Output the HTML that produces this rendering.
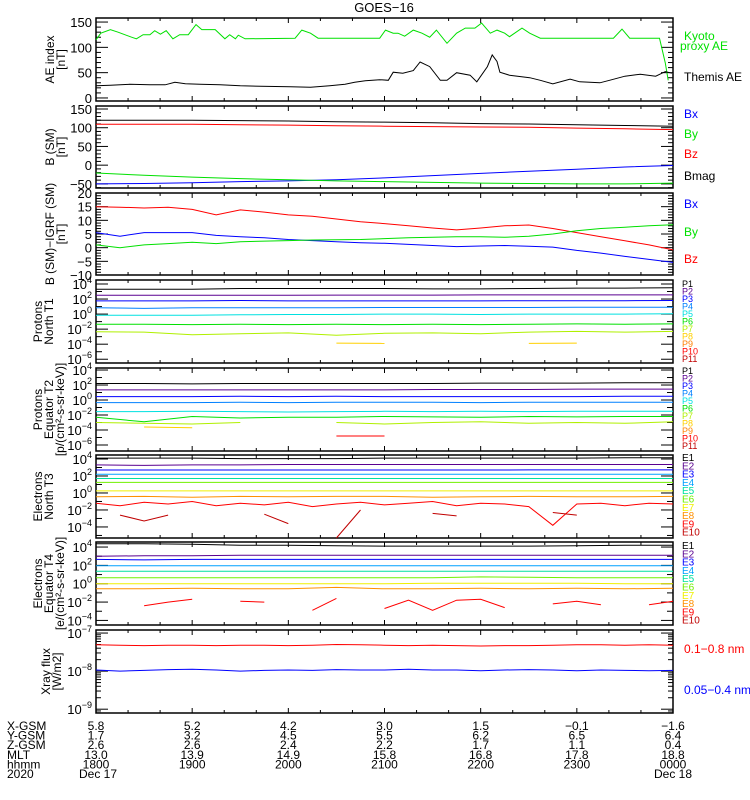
<!DOCTYPE html>
<html><head><meta charset="utf-8"><style>
html,body{margin:0;padding:0;background:#fff;}
svg{display:block;font-family:"Liberation Sans",sans-serif;}
</style></head><body>
<svg id="chart" width="750" height="800" viewBox="0 0 750 800" xmlns="http://www.w3.org/2000/svg">
<rect x="0" y="0" width="750" height="800" fill="#fff"/>
<text x="384" y="12" font-size="13" text-anchor="middle">GOES−16</text>
<g id="layer"></g>
</svg>
<script>
const tHalf = [0,0.5,1,1.5,2,2.5,3,3.5,4,4.5,5,5.5,6];
const tQ = [0,0.25,0.5,0.75,1,1.25,1.5,1.75,2,2.25,2.5,2.75,3,3.25,3.5,3.75,4,4.25,4.5,4.75,5,5.25,5.5,5.75,6];
const hourLabels = ["1800","1900","2000","2100","2200","2300","0000"];
const xgsmLabels = ["5.8","5.2","4.2","3.0","1.5","−0.1","−1.6"];
const ygsmLabels = ["1.7","3.2","4.5","5.5","6.2","6.5","6.4"];
const zgsmLabels = ["2.6","2.6","2.4","2.2","1.7","1.1","0.4"];
const mltLabels = ["13.0","13.9","14.9","15.8","16.8","17.8","18.8"];

const aeKyotoT = [0,.05,.15,.23,.30,.37,.42,.49,.56,.61,.67,.73,.80,.87,.96,1.04,1.10,1.24,1.34,1.39,1.45,1.48,1.55,2.07,2.14,2.23,2.31,2.95,3.01,3.09,3.14,3.21,3.30,3.39,3.47,3.54,3.65,3.75,3.84,3.94,4.01,4.10,4.17,4.25,4.30,4.43,4.51,4.62,5.38,5.47,5.55,5.86,5.88,5.92,5.95];
const aeKyoto = [115,128,135,130,125,120,117,125,125,133,126,133,117,125,125,145,135,135,117,125,117,124,117,118,134,128,118,118,134,128,128,122,134,128,120,134,108,128,138,138,148,128,134,128,121,138,128,118,118,136,118,118,101,69,35];
const aeThemisT = [0,.15,.35,.56,.72,.82,.93,1.08,1.29,1.50,1.71,2.02,2.23,2.43,2.59,2.69,2.80,2.95,3.04,3.09,3.19,3.30,3.37,3.47,3.58,3.65,3.75,3.89,3.96,4.07,4.12,4.17,4.20,4.30,4.51,4.62,4.75,4.93,5.03,5.24,5.34,5.50,5.66,5.82,5.92,5.99];
const aeThemis = [24,25,27,26,26,31,28,27,26,24,23,22,21,24,27,31,34,36,35,51,49,54,71,62,35,35,50,45,32,62,85,72,51,45,40,35,28,37,32,30,35,43,47,43,52,49];

const bsmBmag = [120,120,120,119,118,116,115,113,111,110,108,106,104];
const bsmBz = [109,109,109,108,107,105,104,103,102,101,99,97,95];
const bsmBx = [-50,-49,-47,-44,-42,-39,-34,-28,-22,-16,-11,-5,-1];
const bsmBy = [-21,-27,-32,-36,-39,-42,-44,-46,-48,-49,-50,-50,-48];

const digrfBz = [15,14.8,14.5,14.8,14,12,13.8,13,12,11.5,10.5,9.5,8.8,8,7.2,6.5,7.2,8,8.3,7,5.5,4,2.5,1,-0.8];
const digrfBx = [5.5,4.2,5.5,5.5,5.5,4.5,4,3.6,3,2.6,2.2,1.8,1.6,1.2,0.8,0.4,0.6,0.8,0.5,0.2,-1,-2,-3.2,-4.3,-5.4];
const digrfBy = [1,0,1,1.5,2,1.5,2.2,2.4,2.6,2.8,2.9,3,3.3,3.6,3.8,4,4,3.8,4.2,5,6.2,7,7.5,8,8.4];

const pnP1 = [3.3,3.3,3.3,3.4,3.4,3.4,3.4,3.35,3.35,3.4,3.45,3.45,3.5];
const pnP2 = [2.5,2.5,2.5,2.5,2.5,2.52,2.52,2.52,2.55,2.55,2.55,2.55,2.55];
const pnP3 = [1.75,1.75,1.75,1.8,1.75,1.75,1.75,1.75,1.75,1.78,1.78,1.78,1.8];
const pnP4 = [0.85,0.75,0.85,0.85,0.85,0.85,0.87,0.87,0.87,0.87,0.9,0.9,0.9];
const pnP5 = [-0.15,-0.15,-0.15,-0.1,-0.05,-0.05,0,0,-0.05,0,0,0,0.05];
const pnP6 = [-1.35,-1.35,-1.4,-1.35,-1.4,-1.35,-1.4,-1.35,-1.4,-1.35,-1.3,-1.35,-1.3];
const pnP7 = [-2.35,-2.4,-2.75,-2.6,-2.5,-2.8,-2.55,-2.5,-2.6,-2.4,-2.3,-2.4,-2.3];
const pnP8 = [null,null,null,null,null,-3.85,-3.9,null,null,-3.9,-3.85,null,null];

const peP1 = [2.2,2.2,2.15,2.2,2.2,2.2,2.2,2.2,2.25,2.25,2.25,2.3,2.3];
const peP2 = [1.35,1.35,1.35,1.35,1.35,1.35,1.35,1.4,1.4,1.4,1.45,1.45,1.45];
const peP3 = [0.45,0.45,0.45,0.5,0.45,0.5,0.45,0.45,0.45,0.45,0.45,0.5,0.5];
const peP4 = [-0.35,-0.35,-0.35,-0.3,-0.35,-0.3,-0.3,-0.3,-0.35,-0.3,-0.3,-0.3,-0.3];
const peP5 = [-1.55,-1.55,-1.5,-1.55,-1.6,-1.55,-1.5,-1.55,-1.5,-1.55,-1.5,-1.5,-1.5];
const peP6 = [-2.3,-2.9,-2.2,-2.4,-2.3,-2.3,-2.2,-2.25,-2.3,-2.2,-2.25,-2.2,-2.2];
const peP7 = [-3.0,-3.1,-3.2,-3.0,null,-3.0,-3.2,-3.0,-2.9,-3.1,-3.0,-3.1,-2.9];
const peP8 = [null,-3.6,-3.7,null,null,null,null,null,null,null,-3.6,null,null];
const peP10 = [null,null,null,null,null,-4.8,-4.8,null,null,null,null,null,null];

const enE1 = [4.1,4.1,4.1,4.05,4.05,4.05,4.1,4.1,4.1,4.1,4.1,4.15,4.15];
const enE2 = [3.3,3.25,3.3,3.3,3.35,3.35,3.35,3.35,3.35,3.35,3.35,3.35,3.35];
const enE3 = [2.7,2.7,2.7,2.7,2.7,2.7,2.7,2.7,2.7,2.72,2.72,2.72,2.72];
const enE4 = [2.2,2.2,2.2,2.2,2.2,2.2,2.2,2.2,2.2,2.2,2.2,2.2,2.2];
const enE5 = [1.7,1.7,1.7,1.7,1.7,1.7,1.7,1.7,1.7,1.7,1.7,1.7,1.7];
const enE6 = [1.25,1.25,1.25,1.25,1.25,1.25,1.25,1.25,1.25,1.25,1.25,1.25,1.25];
const enE7 = [0.25,0.25,0.25,0.25,0.25,0.25,0.25,0.25,0.25,0.25,0.25,0.25,0.25];
const enE8 = [-0.45,-0.4,-0.5,-0.4,-0.45,-0.4,-0.4,-0.5,-0.45,-0.4,-0.45,-0.45,-0.4];
const enE9 = [-1.2,-1.5,-1.1,-1.3,-1.0,-1.5,-1.2,-1.4,-1.1,-1.6,-1.3,-1.1,-1.4,-1.2,-1.0,-1.5,-1.2,-1.3,-1.6,-3.8,-1.3,-1.2,-1.5,-1.2,-1.3];
const enE10 = [null,-2.6,-3.3,-2.6,null,null,null,-2.5,-3.6,null,-5.3,-2.0,null,null,-2.4,-2.7,null,null,null,-2.3,-2.6,null,null,null,null];

const eeE1 = [4.35,4.35,4.3,4.2,4.2,4.15,4.1,4.1,4.1,4.1,4.15,4.2,4.2];
const eeE2 = [3.0,3.05,3.05,3.1,3.1,3.1,3.1,3.1,3.1,3.1,3.1,3.1,3.1];
const eeE3 = [2.65,2.6,2.65,2.65,2.65,2.65,2.65,2.65,2.65,2.65,2.65,2.65,2.65];
const eeE4 = [1.95,1.95,1.95,1.95,1.95,1.95,1.95,1.95,1.95,1.95,1.95,1.95,1.95];
const eeE5 = [1.35,1.35,1.35,1.35,1.35,1.35,1.35,1.35,1.35,1.35,1.35,1.35,1.35];
const eeE6 = [0.65,0.65,0.65,0.65,0.65,0.65,0.65,0.65,0.75,0.7,0.65,0.65,0.65];
const eeE7 = [0.0,0.0,0.0,0.0,0.0,0.0,0.0,0.05,0.05,0.05,0.05,0.0,0.0];
const eeE8 = [-0.55,-0.55,-0.5,-0.55,-0.55,-0.4,-0.55,-0.55,-0.5,-0.55,-0.5,-0.55,-0.5];
const eeE9 = [null,null,-2.4,-2.0,-1.7,null,-1.9,-2.0,null,-2.9,-1.6,null,-2.7,-1.8,-2.9,-1.8,-1.7,-2.6,null,-2.2,-1.9,-2.3,null,-2.3,-1.9];

const xrLong = [-7.31,-7.32,-7.33,-7.32,-7.32,-7.33,-7.32,-7.32,-7.33,-7.32,-7.30,-7.31,-7.32,-7.33,-7.32,-7.33,-7.34,-7.33,-7.33,-7.32,-7.31,-7.31,-7.32,-7.31,-7.32];
const xrShort = [-7.97,-8.0,-7.98,-7.96,-7.95,-7.97,-8.0,-7.98,-7.97,-7.98,-7.96,-7.97,-7.97,-7.95,-7.97,-7.97,-7.99,-7.97,-7.96,-7.97,-7.99,-7.97,-7.98,-7.99,-7.98];

const X0 = 96, X1 = 673, TMAX = 6;
const NS = "http://www.w3.org/2000/svg";
const layer = document.getElementById('layer');
function sx(t){ return X0 + (t / TMAX) * (X1 - X0); }
function mk(tag, attrs, parent){
  const e = document.createElementNS(NS, tag);
  for (const k in attrs) e.setAttribute(k, attrs[k]);
  (parent || layer).appendChild(e);
  return e;
}
function makeScale(p){ return v => p.bot - (v - p.min) / (p.max - p.min) * (p.bot - p.top); }

const panels = [
  {id:'ae', top:18, bot:101, min:-6, max:158, log:false, majors:[0,50,100,150], minorStep:10},
  {id:'bsm', top:106, bot:188, min:-61, max:158, log:false, majors:[-50,0,50,100,150], minorStep:10},
  {id:'digrf', top:193, bot:275, min:-10, max:20, log:false, majors:[-10,-5,0,5,10,15,20], minorStep:1},
  {id:'pn', top:280, bot:363, min:-6.5, max:4.53, log:true, majors:[-6,-4,-2,0,2,4]},
  {id:'pe', top:368, bot:451, min:-6.8, max:4.27, log:true, majors:[-6,-4,-2,0,2,4]},
  {id:'en', top:455, bot:538, min:-5.3, max:4.47, log:true, majors:[-4,-2,0,2,4]},
  {id:'ee', top:542, bot:625, min:-4.5, max:4.55, log:true, majors:[-4,-2,0,2,4]},
  {id:'xr', top:630, bot:713, min:-9.1, max:-6.92, log:true, majors:[-9,-8,-7], sub:true}
];

function drawAxes(p){
  const sy = makeScale(p);
  const g = mk('g', {});
  
  
  mk('rect', {x:X0, y:p.top, width:X1-X0, height:p.bot-p.top, fill:'none', stroke:'#000', 'stroke-width':1.5}, g);
  for (let i = 0; i <= 18; i++){
    const x = sx(i/3), L = (i % 3 === 0) ? 5 : 3;
    mk('line', {x1:x, x2:x, y1:p.bot, y2:p.bot-L, stroke:'#000'}, g);
    mk('line', {x1:x, x2:x, y1:p.top, y2:p.top+L, stroke:'#000'}, g);
  }
  const ticks = [];
  if (!p.log){
    for (let v = Math.ceil(p.min/p.minorStep)*p.minorStep; v <= p.max; v += p.minorStep)
      ticks.push([v, p.majors.indexOf(v) >= 0 ? 12 : 5]);
  } else {
    for (let d = Math.ceil(p.min); d <= Math.floor(p.max); d++){
      ticks.push([d, p.majors.indexOf(d) >= 0 ? 12 : 6]);
    }
    if (p.sub){
      for (let d = Math.floor(p.min); d <= p.max; d++)
        for (let k = 2; k <= 9; k++){ const v = d + Math.log10(k); if (v > p.min && v < p.max) ticks.push([v, 5]); }
    }
  }
  ticks.forEach(([v, L]) => {
    const y = sy(v);
    mk('line', {x1:X0, x2:X0+L, y1:y, y2:y, stroke:'#000'}, g);
    mk('line', {x1:X1, x2:X1-L, y1:y, y2:y, stroke:'#000'}, g);
  });
  p.majors.forEach(v => {
    const y = sy(v);
    const t = mk('text', {x:92, y:y+5, 'font-size':13, 'text-anchor':'end'}, g);
    
    
    if (!p.log){ t.textContent = (v < 0 ? '−' + (-v) : String(v)); }
    else {
      t.textContent = '10';
      const s = mk('tspan', {dy:-6, 'font-size':9}, t);
      s.textContent = (v < 0 ? '−' + (-v) : String(v));
    }
  });
  return sy;
}

function drawSeries(p, sy, times, vals, color, name){
  const g = mk('g', {});
  
  
  let pts = [];
  const flush = () => {
    if (pts.length > 1) mk('polyline', {points:pts.join(' '), fill:'none', stroke:color, 'stroke-width':1}, g);
    pts = [];
  };
  for (let i = 0; i < vals.length; i++){
    if (vals[i] === null){ flush(); continue; }
    const y = Math.max(p.top, Math.min(p.bot, sy(vals[i])));
    pts.push(sx(times[i]).toFixed(1) + ',' + y.toFixed(1));
  }
  flush();
}

const S = {};
panels.forEach(p => { S[p.id] = drawAxes(p); });
const P = {}; panels.forEach(p => P[p.id] = p);

drawSeries(P.ae, S.ae, aeKyotoT, aeKyoto, '#00e000', 'kyoto-proxy-ae-line');
drawSeries(P.ae, S.ae, aeThemisT, aeThemis, '#000', 'themis-ae-line');
drawSeries(P.bsm, S.bsm, tHalf, bsmBmag, '#000', 'bsm-bmag-line');
drawSeries(P.bsm, S.bsm, tHalf, bsmBz, '#ff0000', 'bsm-bz-line');
drawSeries(P.bsm, S.bsm, tHalf, bsmBx, '#0000ff', 'bsm-bx-line');
drawSeries(P.bsm, S.bsm, tHalf, bsmBy, '#00e000', 'bsm-by-line');
drawSeries(P.digrf, S.digrf, tQ, digrfBz, '#ff0000', 'digrf-bz-line');
drawSeries(P.digrf, S.digrf, tQ, digrfBx, '#0000ff', 'digrf-bx-line');
drawSeries(P.digrf, S.digrf, tQ, digrfBy, '#00e000', 'digrf-by-line');

const pColors = ['#000000','#5a0090','#0000ff','#0080ff','#00e0e0','#00e000','#b0f000','#ffd000','#ff8000','#ff0000','#c00000'];
const eColors = ['#000000','#5a0090','#0000ff','#00a0ff','#00e0a0','#70f000','#f0f000','#ff9000','#ff0000','#c00000'];
[pnP1,pnP2,pnP3,pnP4,pnP5,pnP6,pnP7,pnP8].forEach((a,i) => drawSeries(P.pn, S.pn, tHalf, a, pColors[i], 'protons-north-p' + (i+1) + '-line'));
[peP1,peP2,peP3,peP4,peP5,peP6,peP7,peP8].forEach((a,i) => drawSeries(P.pe, S.pe, tHalf, a, pColors[i], 'protons-equator-p' + (i+1) + '-line'));
drawSeries(P.pe, S.pe, tHalf, peP10, pColors[9], 'protons-equator-p10-line');
[enE1,enE2,enE3,enE4,enE5,enE6,enE7,enE8].forEach((a,i) => drawSeries(P.en, S.en, tHalf, a, eColors[i], 'electrons-north-e' + (i+1) + '-line'));
drawSeries(P.en, S.en, tQ, enE9, eColors[8], 'electrons-north-e9-line');
drawSeries(P.en, S.en, tQ, enE10, eColors[9], 'electrons-north-e10-line');
[eeE1,eeE2,eeE3,eeE4,eeE5,eeE6,eeE7,eeE8].forEach((a,i) => drawSeries(P.ee, S.ee, tHalf, a, eColors[i], 'electrons-equator-e' + (i+1) + '-line'));
drawSeries(P.ee, S.ee, tQ, eeE9, eColors[8], 'electrons-equator-e9-line');
drawSeries(P.xr, S.xr, tQ, xrLong, '#ff0000', 'xray-long-line');
drawSeries(P.xr, S.xr, tQ, xrShort, '#0000ff', 'xray-short-line');

function yTitle(lines, p, name, xs){
  const cy = (p.top + p.bot) / 2;
  const g = mk('g', {});
  
  
  lines.forEach((s, i) => {
    const x = xs[i];
    const t = mk('text', {x:x, y:cy, 'font-size':12, 'text-anchor':'middle', transform:'rotate(-90 ' + x + ' ' + cy + ')'}, g);
    t.textContent = s;
  });
}
yTitle(['AE index','[nT]'], P.ae, 'ae-y-axis-title', [54, 65]);
yTitle(['B (SM)','[nT]'], P.bsm, 'bsm-y-axis-title', [54, 65]);
yTitle(['B (SM)−IGRF (SM)','[nT]'], P.digrf, 'digrf-y-axis-title', [54, 65]);
yTitle(['Protons','North T1'], P.pn, 'protons-north-y-axis-title', [42, 53]);
yTitle(['Protons','Equator T2','[p/(cm²-s-sr-keV)]'], P.pe, 'protons-equator-y-axis-title', [42, 53, 64]);
yTitle(['Electrons','North T3'], P.en, 'electrons-north-y-axis-title', [42, 53]);
yTitle(['Electrons','Equator T4','[e/(cm²-s-sr-keV)]'], P.ee, 'electrons-equator-y-axis-title', [42, 53, 64]);
yTitle(['Xray flux','[W/m2]'], P.xr, 'xray-y-axis-title', [50, 61]);

function legend(text, x, y, color, size, name){
  const t = mk('text', {x:x, y:y, 'font-size':size, fill:color});
  
  
  t.textContent = text;
}
legend('Kyoto', 684, 40, '#00e000', 12, 'legend-kyoto');
legend('proxy AE', 680, 50, '#00e000', 12, 'legend-proxy-ae');
legend('Themis AE', 684, 81, '#000', 12, 'legend-themis-ae');
legend('Bx', 684, 118, '#0000ff', 12, 'legend-bsm-bx');
legend('By', 684, 138, '#00e000', 12, 'legend-bsm-by');
legend('Bz', 684, 158, '#ff0000', 12, 'legend-bsm-bz');
legend('Bmag', 684, 180, '#000', 12, 'legend-bsm-bmag');
legend('Bx', 684, 208, '#0000ff', 12, 'legend-digrf-bx');
legend('By', 684, 236, '#00e000', 12, 'legend-digrf-by');
legend('Bz', 684, 263, '#ff0000', 12, 'legend-digrf-bz');
for (let i = 0; i < 11; i++){
  legend('P' + (i+1), 682, 287 + i*7.5, pColors[i], 9, 'legend-protons-north-p' + (i+1));
  legend('P' + (i+1), 682, 374 + i*7.5, pColors[i], 9, 'legend-protons-equator-p' + (i+1));
}
for (let i = 0; i < 10; i++){
  legend('E' + (i+1), 682, 461 + i*8.3, eColors[i], 10, 'legend-electrons-north-e' + (i+1));
  legend('E' + (i+1), 682, 549 + i*8.3, eColors[i], 10, 'legend-electrons-equator-e' + (i+1));
}
legend('0.1−0.8 nm', 684, 653, '#ff0000', 12, 'legend-xray-long');
legend('0.05−0.4 nm', 684, 694, '#0000ff', 12, 'legend-xray-short');

const rowNames = ['X-GSM','Y-GSM','Z-GSM','MLT','hhmm','2020'];
const rowData = [xgsmLabels, ygsmLabels, zgsmLabels, mltLabels, hourLabels];
rowNames.forEach((n, r) => {
  const y = 730 + r * 9.6;
  legend(n, 7, y, '#000', 12, 'row-label-' + n.toLowerCase());
  if (r < 5){
    rowData[r].forEach((s, i) => {
      const t = mk('text', {x:sx(i), y:y, 'font-size':12, 'text-anchor':'middle'});
      
      
      t.textContent = s;
    });
  }
});
const d1 = mk('text', {x:sx(0)+2, y:730+5*9.6, 'font-size':12, 'text-anchor':'middle'});


d1.textContent = 'Dec 17';
const d2 = mk('text', {x:sx(6), y:730+5*9.6, 'font-size':12, 'text-anchor':'middle'});


d2.textContent = 'Dec 18';
</script>
</body></html>
